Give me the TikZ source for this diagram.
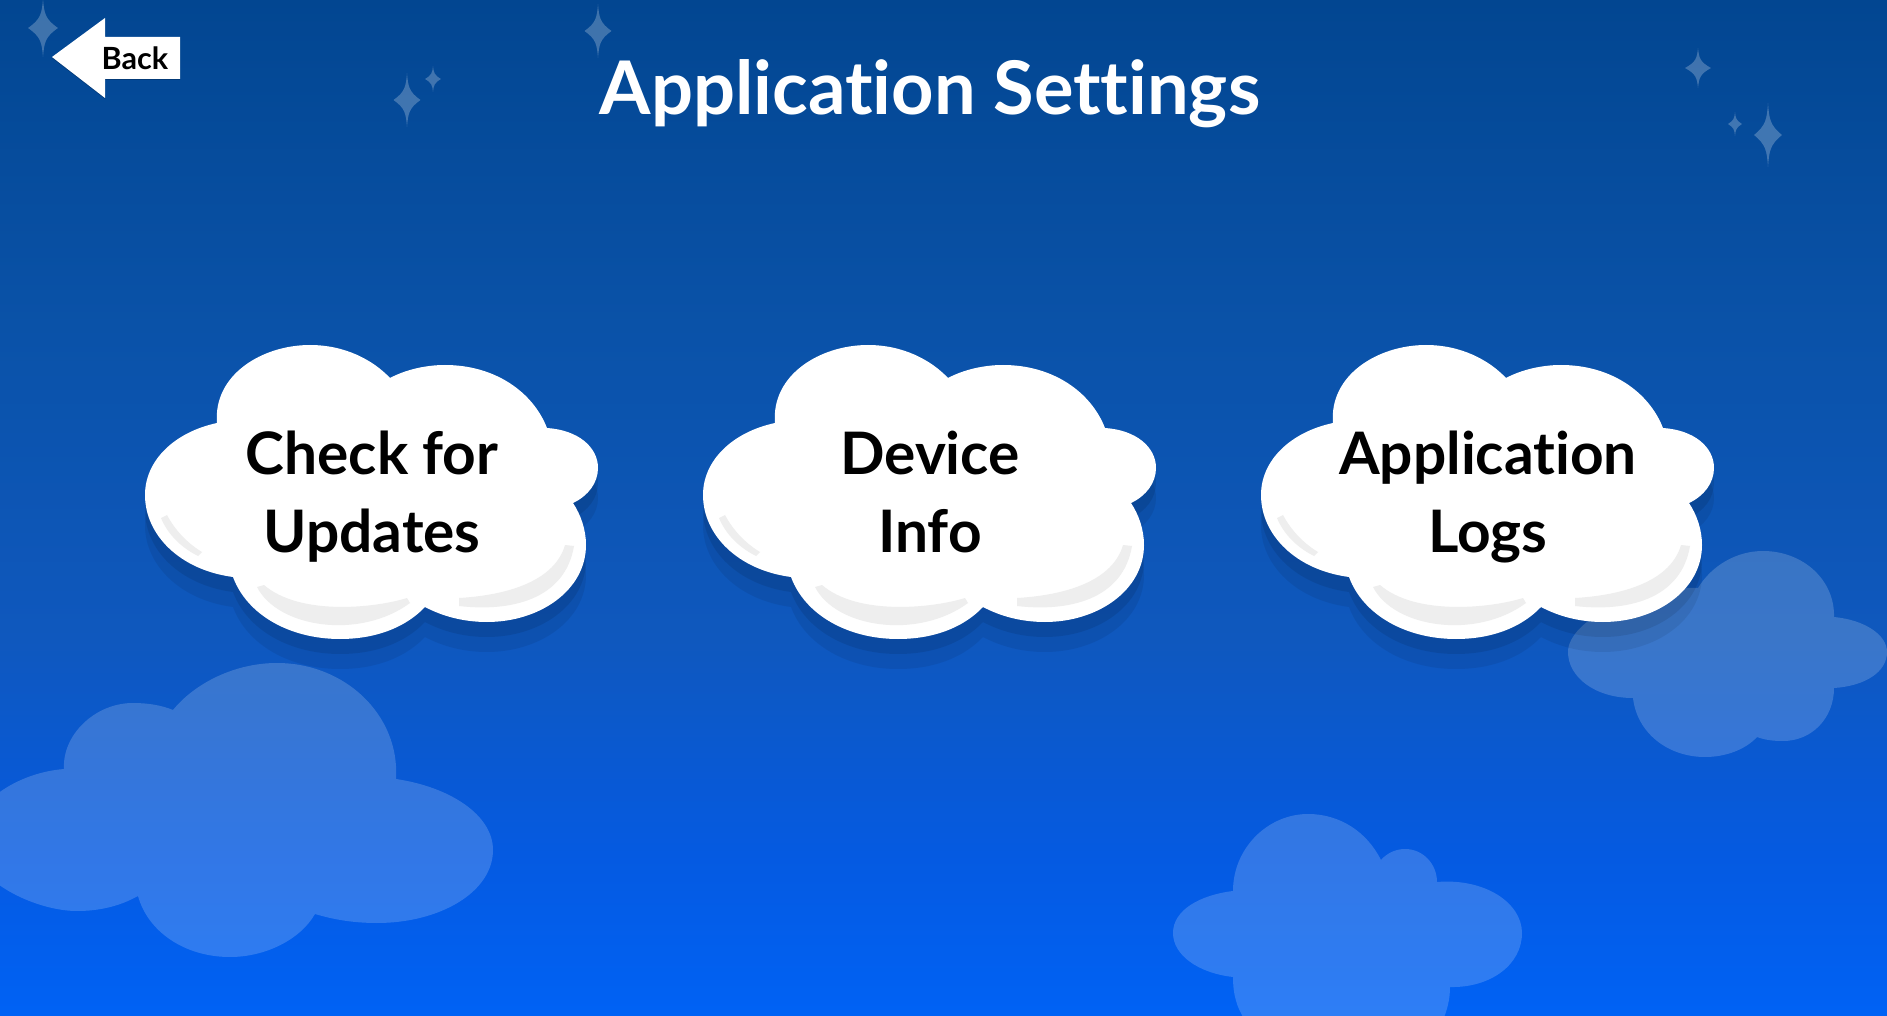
\documentclass[tikz,border=0pt]{standalone}
\usepackage{fontspec}
\setmainfont{Lato}[Ligatures=NoCommon]
\usepackage{tikz}
\definecolor{skytop}{RGB}{2,70,145}
\definecolor{skyupper}{RGB}{10,82,168}
\definecolor{skymid}{RGB}{15,88,190}
\definecolor{skylower}{RGB}{5,90,225}
\definecolor{skybottom}{RGB}{0,98,245}
\definecolor{glossgray}{RGB}{238,238,238}
\pgfdeclareverticalshading{skyshade}{100bp}{color(0bp)=(skybottom); color(25bp)=(skybottom); color(33bp)=(skylower); color(43.5bp)=(skymid); color(59bp)=(skyupper); color(75bp)=(skytop); color(100bp)=(skytop)}
\newcommand{\cloudoutline}{(217,423) .. controls (213,375) and (262,345) .. (310,345) .. controls (345,345) and (373,360) .. (390,378)
    .. controls (405,370) and (425,365) .. (445,365) .. controls (495,365) and (533,392) .. (547,428)
    .. controls (578,430) and (598,447) .. (598,468) .. controls (598,483) and (588,496) .. (573,503)
    .. controls (581,515) and (586,530) .. (586,545) .. controls (586,590) and (540,622) .. (487,622)
    .. controls (463,622) and (442,616) .. (425,607) .. controls (405,628) and (375,639) .. (340,639)
    .. controls (290,639) and (247,615) .. (233,577) .. controls (180,570) and (145,535) .. (145,495)
    .. controls (145,460) and (175,432) .. (217,423) -- cycle}
\tikzset{
    title/.style={text=white, font=\fontsize{37}{40}\selectfont\bfseries},
    cloudlabel/.style={text=black, align=center, font=\fontsize{29.3}{39}\selectfont\bfseries},
    backlabel/.style={text=black, font=\fontsize{15.3}{17}\selectfont\bfseries},
    haze/.style={fill=white, fill opacity=0.18},
    glint/.style={fill=white, fill opacity=0.24},
    gloss/.style={fill=glossgray},
    pics/whitecloud/.style={code={
        \fill[black, fill opacity=0.07, yshift=-15] \cloudoutline;
        \fill[black, fill opacity=0.09, yshift=-7.5] \cloudoutline;
        \fill[white] \cloudoutline;
        \fill[gloss] (161,518) .. controls (168,535) and (182,548) .. (198,556) -- (202,552) .. controls (187,543) and (175,530) .. (167,515) -- cycle;
        \fill[gloss] (257,587) .. controls (278,628) and (360,640) .. (410,603) -- (407,598) .. controls (375,608) and (300,616) .. (264,585) -- cycle;
        \fill[gloss] (459,606) .. controls (510,612) and (565,600) .. (574,546) -- (565,545) .. controls (555,580) and (510,595) .. (459,598) -- cycle;
    }},
    pics/sparkle/.style n args={2}{code={
        \fill[glint] (0,-#2) .. controls (0.08*#1,-0.5*#2) and (0.15*#1,-0.3*#2) .. (#1,0)
            .. controls (0.15*#1,0.3*#2) and (0.08*#1,0.5*#2) .. (0,#2)
            .. controls (-0.08*#1,0.5*#2) and (-0.15*#1,0.3*#2) .. (-#1,0)
            .. controls (-0.15*#1,-0.3*#2) and (-0.08*#1,-0.5*#2) .. (0,-#2) -- cycle;
    }}
}
\begin{document}
\begin{tikzpicture}[x=0.5pt, y=-0.5pt]
    \useasboundingbox (0,0) rectangle (1887,1016);
    \clip (0,0) rectangle (1887,1016);

    % Sky
    \shade[shading=skyshade] (0,0) rectangle (1887,1016);

    % Background clouds
    \fill[haze] (64,769) .. controls (62,735) and (95,703) .. (133,703) .. controls (147,703) and (161,705) .. (173,710)
        .. controls (195,683) and (235,663) .. (277,663) .. controls (345,663) and (400,715) .. (396,779)
        .. controls (450,787) and (493,815) .. (493,850) .. controls (493,892) and (440,923) .. (377,923)
        .. controls (355,923) and (335,920) .. (315,914) .. controls (300,940) and (265,957) .. (230,957)
        .. controls (185,957) and (148,932) .. (138,896) .. controls (120,906) and (100,911) .. (77,911)
        .. controls (35,911) and (-30,880) .. (-30,840) .. controls (-30,805) and (15,773) .. (64,769) -- cycle;
    \fill[haze] (1233,891) .. controls (1233,848) and (1268,814) .. (1308,814) .. controls (1340,814) and (1367,832) .. (1381,860)
        .. controls (1387,853) and (1396,849) .. (1405,849) .. controls (1423,849) and (1437,864) .. (1437,882)
        .. controls (1485,878) and (1522,903) .. (1522,933) .. controls (1522,965) and (1490,988) .. (1450,987)
        .. controls (1450,1000) and (1447,1010) .. (1443,1020) -- (1245,1020)
        .. controls (1237,1008) and (1233,995) .. (1233,977) .. controls (1198,973) and (1173,955) .. (1173,933)
        .. controls (1173,910) and (1200,895) .. (1233,891) -- cycle;
    \fill[haze] (1698,588) .. controls (1712,565) and (1737,551) .. (1763,551) .. controls (1803,551) and (1835,580) .. (1834,617)
        .. controls (1865,620) and (1887,635) .. (1887,652) .. controls (1887,672) and (1865,686) .. (1834,688)
        .. controls (1834,718) and (1812,741) .. (1783,741) .. controls (1773,741) and (1765,740) .. (1757,737)
        .. controls (1745,750) and (1725,757) .. (1705,757) .. controls (1668,757) and (1637,733) .. (1633,698)
        .. controls (1595,698) and (1568,677) .. (1568,652) .. controls (1568,620) and (1640,585) .. (1698,588) -- cycle;

    % Stars
    \pic at (43,28) {sparkle={15}{29}};
    \pic at (598,31) {sparkle={13.5}{27}};
    \pic at (407,100) {sparkle={13.5}{27}};
    \pic at (433,79) {sparkle={8}{13}};
    \pic at (1698,68) {sparkle={13}{20}};
    \pic at (1735,124) {sparkle={7}{12}};
    \pic at (1768,135) {sparkle={14}{32}};

    % Back button
    \fill[black, fill opacity=0.2] (52,58) -- (105,19) -- (105,38) -- (180,38) -- (180,80) -- (105,80) -- (105,99) -- cycle;
    \fill[white] (52,57) -- (105,18) -- (105,37) -- (180,37) -- (180,79) -- (105,79) -- (105,98) -- cycle;
    \node (back) [backlabel] at (135,58) {Back};

    % Title
    \node (heading) [title] at (930,94) {Application Settings};

    % Clouds
    \pic at (0,0) {whitecloud};
    \pic at (558,0) {whitecloud};
    \pic at (1116,0) {whitecloud};
    \node (updates) [cloudlabel] at (372,497) {Check for\\Updates};
    \node (device) [cloudlabel] at (930,492) {Device\\Info};
    \node (logs) [cloudlabel] at (1488,497) {Application\\Logs};

\end{tikzpicture}
\end{document}
